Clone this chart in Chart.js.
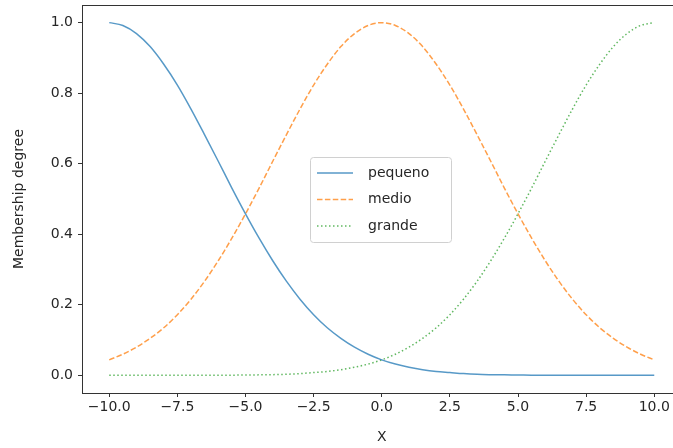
<!DOCTYPE html>
<html>
<head>
<meta charset="utf-8">
<script src="https://cdn.jsdelivr.net/npm/chart.js@4/dist/chart.umd.min.js"></script>
<style>
  html, body { margin: 0; padding: 0; background: #fff; overflow: hidden; }
  #wrap { width: 690px; height: 448px; }
</style>
</head>
<body>
<div id="wrap"><canvas id="chart" width="690" height="448"></canvas></div>
<script>
// values, x from -10 to 10 in steps of 0.5
const xValues = [-10, -9.5, -9, -8.5, -8, -7.5, -7, -6.5, -6, -5.5, -5, -4.5, -4, -3.5, -3, -2.5, -2, -1.5, -1, -0.5,
                 0, 0.5, 1, 1.5, 2, 2.5, 3, 3.5, 4, 4.5, 5, 5.5, 6, 6.5, 7, 7.5, 8, 8.5, 9, 9.5, 10];
const pequeno = [1.000, 0.992, 0.969, 0.932, 0.882, 0.823, 0.755, 0.682, 0.607, 0.531, 0.458, 0.389, 0.325, 0.267, 0.216, 0.172, 0.135, 0.105, 0.080, 0.060,
                 0.044, 0.032, 0.023, 0.016, 0.011, 0.008, 0.005, 0.003, 0.002, 0.0014, 0.001, 0.0005, 0.0003, 0.0002, 0.0001, 0, 0, 0, 0, 0, 0];
const medio   = [0.044, 0.060, 0.080, 0.105, 0.135, 0.172, 0.216, 0.267, 0.325, 0.389, 0.458, 0.531, 0.607, 0.682, 0.755, 0.823, 0.882, 0.932, 0.969, 0.992,
                 1.000, 0.992, 0.969, 0.932, 0.882, 0.823, 0.755, 0.682, 0.607, 0.531, 0.458, 0.389, 0.325, 0.267, 0.216, 0.172, 0.135, 0.105, 0.080, 0.060, 0.044];
const grande  = [0, 0, 0, 0, 0, 0, 0.0001, 0.0002, 0.0003, 0.0005, 0.001, 0.0014, 0.002, 0.003, 0.005, 0.008, 0.011, 0.016, 0.023, 0.032,
                 0.044, 0.060, 0.080, 0.105, 0.135, 0.172, 0.216, 0.267, 0.325, 0.389, 0.458, 0.531, 0.607, 0.682, 0.755, 0.823, 0.882, 0.932, 0.969, 0.992, 1.000];
const xTicks = [-10, -7.5, -5, -2.5, 0, 2.5, 5, 7.5, 10];
const yTicks = [0, 0.2, 0.4, 0.6, 0.8, 1.0];

const font = { family: "'DejaVu Sans', sans-serif", size: 14 };
const textColor = '#262626';

function points(ys) {
    return xValues.map((x, i) => ({ x: x, y: ys[i] }));
}

function fmt(v) {
    return v.toFixed(1).replace('-', '\u2212');
}

// box around the plot + legend in the middle
const framePlugin = {
    id: 'frame',
    afterDraw(chart) {
        const { ctx, chartArea: a } = chart;
        ctx.save();
        ctx.strokeStyle = '#333';
        ctx.lineWidth = 1;
        ctx.strokeRect(Math.round(a.left) + 0.5, Math.round(a.top) + 0.5,
                       Math.round(a.right - a.left), Math.round(a.bottom - a.top));

        // legend
        const bx = 310.5, by = 157.5, bw = 141, bh = 85;
        ctx.fillStyle = 'rgba(255,255,255,0.8)';
        ctx.strokeStyle = '#d0d0d0';
        ctx.beginPath();
        ctx.roundRect(bx, by, bw, bh, 3);
        ctx.fill();
        ctx.stroke();
        ctx.font = font.size + 'px ' + font.family;
        ctx.textBaseline = 'middle';
        chart.data.datasets.forEach((ds, i) => {
            const y = 173 + i * 26.5;
            ctx.strokeStyle = ds.borderColor;
            ctx.lineWidth = ds.borderWidth;
            ctx.setLineDash(ds.borderDash || []);
            ctx.beginPath();
            ctx.moveTo(317, y);
            ctx.lineTo(353, y);
            ctx.stroke();
            ctx.setLineDash([]);
            ctx.fillStyle = textColor;
            ctx.fillText(ds.label, 368, y);
        });
        ctx.restore();
    }
};

new Chart(document.getElementById('chart'), {
    type: 'line',
    data: {
        datasets: [
            { label: 'pequeno', data: points(pequeno), borderColor: 'rgba(31,119,180,0.75)', borderWidth: 1.5 },
            { label: 'medio', data: points(medio), borderColor: 'rgba(255,127,14,0.75)', borderWidth: 1.5, borderDash: [5.5, 2.4] },
            { label: 'grande', data: points(grande), borderColor: 'rgba(44,160,44,0.75)', borderWidth: 1.5, borderDash: [1.5, 2.5] }
        ]
    },
    options: {
        responsive: false,
        animation: false,
        layout: { padding: { top: 5, right: 8.5, left: 0, bottom: 0 } },
        elements: {
            point: { radius: 0 },
            line: { cubicInterpolationMode: 'monotone', fill: false }
        },
        plugins: { legend: { display: false }, tooltip: { enabled: false } },
        scales: {
            x: {
                type: 'linear',
                min: -11,
                max: 11,
                afterBuildTicks: s => { s.ticks = xTicks.map(v => ({ value: v })); },
                afterFit: s => { s.height = 55; s.paddingLeft = 0; s.paddingRight = 0; },
                grid: { drawOnChartArea: false, drawTicks: true, tickLength: 4, color: '#333' },
                border: { display: false },
                ticks: { font: font, color: textColor, padding: 2, maxRotation: 0, callback: v => fmt(v) },
                title: { display: true, text: 'X', font: font, color: textColor, padding: { top: 0, bottom: 2 } }
            },
            y: {
                type: 'linear',
                min: -0.05,
                max: 1.05,
                afterBuildTicks: s => { s.ticks = yTicks.map(v => ({ value: v })); },
                afterFit: s => { s.width = 82; s.paddingTop = 0; s.paddingBottom = 0; },
                grid: { drawOnChartArea: false, drawTicks: true, tickLength: 4, color: '#333' },
                border: { display: false },
                ticks: { font: font, color: textColor, padding: 5, callback: v => fmt(v) },
                title: { display: true, text: 'Membership degree', font: font, color: textColor, padding: { top: 11, bottom: 0 } }
            }
        }
    },
    plugins: [framePlugin]
});
</script>
</body>
</html>
